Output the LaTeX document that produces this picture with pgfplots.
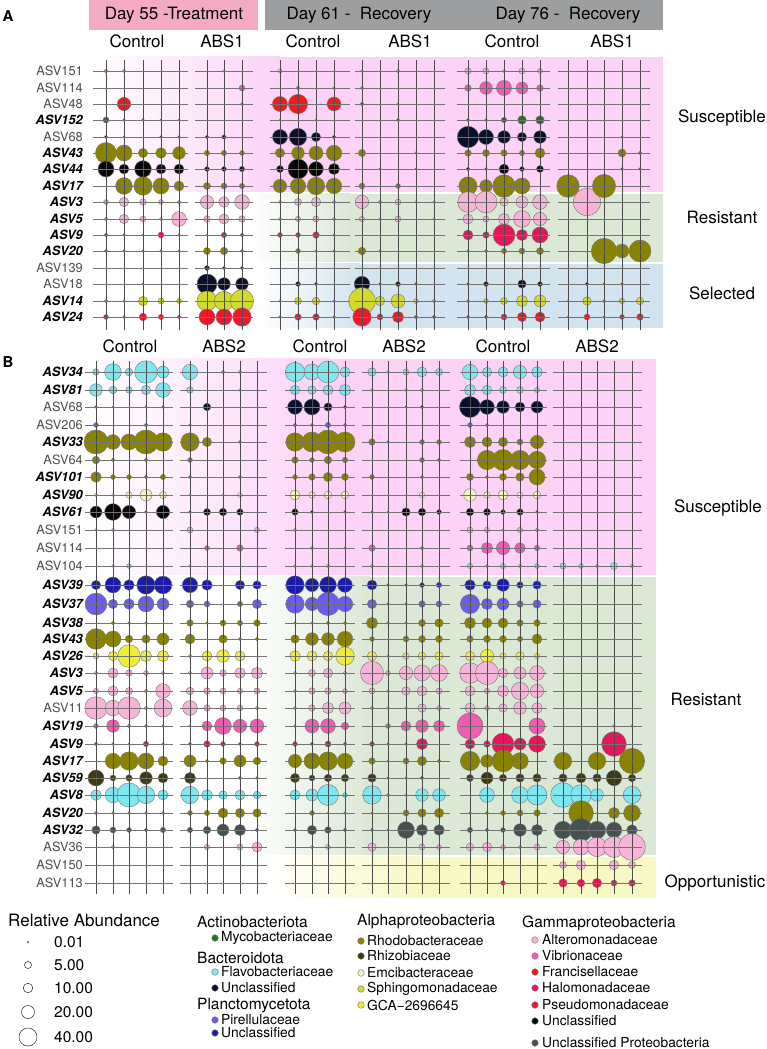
\documentclass[border=0pt]{standalone}
\usepackage{fontspec}
\setmainfont{TeX Gyre Heros}
\usepackage{pgfplots}
\usepackage{pgfplotstable}
\pgfplotsset{compat=1.18}

% family colours
\definecolor{cAlt}{HTML}{F6B4D8}
\definecolor{cVib}{HTML}{F25AB4}
\definecolor{cFra}{HTML}{FF1515}
\definecolor{cHal}{HTML}{E8155A}
\definecolor{cPse}{HTML}{F3152B}
\definecolor{cGun}{HTML}{050505}
\definecolor{cUpr}{HTML}{465252}
\definecolor{cMyc}{HTML}{1C7A1C}
\definecolor{cFla}{HTML}{80E6F0}
\definecolor{cBun}{HTML}{0A0F2A}
\definecolor{cPir}{HTML}{6A5CF2}
\definecolor{cPun}{HTML}{1C1CA8}
\definecolor{cRho}{HTML}{8A8300}
\definecolor{cRhi}{HTML}{3D3A0E}
\definecolor{cEmc}{HTML}{F6F2C0}
\definecolor{cSph}{HTML}{D2DB2C}
\definecolor{cGca}{HTML}{EEEE3A}
% backgrounds
\definecolor{bgPink}{HTML}{FCD3F7}
\definecolor{bgGreen}{HTML}{DCE8D6}
\definecolor{bgBlue}{HTML}{D2E4F0}
\definecolor{bgYellow}{HTML}{F8F8C4}
\definecolor{hdPink}{HTML}{F5AAC3}
\definecolor{hdGrey}{HTML}{9C9EA0}

\newcommand\fRow{\fontsize{12.8}{12.8}\selectfont}
\newcommand\fBig{\fontsize{17}{17}\selectfont}
\newcommand\fLeg{\fontsize{15.5}{15.5}\selectfont}
\newcommand\fSub{\fontsize{13.8}{13.8}\selectfont}
\newcommand\rlab[2]{\node[anchor=east,inner sep=0,text=black!70,font=\fRow] at (83,#1) {#2};}
\newcommand\blab[2]{\node[anchor=east,inner sep=0,font=\fRow\bfseries\itshape] at (83,#1) {#2};}

\pgfplotsset{
  famcls/.style={scatter, only marks, mark=*, scatter src=explicit symbolic,
    scatter/classes={
      alt={draw=black!55,fill=cAlt}, vib={draw=black!55,fill=cVib},
      fra={draw=black!55,fill=cFra}, hal={draw=black!55,fill=cHal},
      pse={draw=black!55,fill=cPse}, gun={draw=black!55,fill=cGun},
      upr={draw=black!55,fill=cUpr}, myc={draw=black!55,fill=cMyc},
      fla={draw=black!55,fill=cFla}, bun={draw=black!55,fill=cBun},
      pir={draw=black!55,fill=cPir}, pun={draw=black!55,fill=cPun},
      rho={draw=black!55,fill=cRho}, rhi={draw=black!55,fill=cRhi},
      emc={draw=black!55,fill=cEmc}, sph={draw=black!55,fill=cSph},
      gca={draw=black!55,fill=cGca}, leg={draw=black,fill=white}}},
  bubble/.style={famcls,
    visualization depends on={0.5+1.35*sqrt(\thisrow{#1}) \as \rad},
    scatter/@pre marker code/.append style={/tikz/mark size=\rad,/tikz/line width=0.4pt,/tikz/fill opacity=0.9}},
}

% Panel A: relative abundance (%), one row per ASV, one column per sample (named by its x position)
\pgfplotstableread{
asv y fam x106 x124 x143 x161 x179 x207 x224 x242 x280 x298 x316 x334 x362 x380 x398 x416 x434 x468 x486 x504 x522 x540 x568 x587 x604 x622 x640
ASV151 71 alt 1.2 0.8 0 0 0 0 0.5 0 1.5 0 0 0 0.5 0 1.0 0 0 4.0 3.4 0.8 3.4 2.2 0 0 0 0 0
ASV114 88 vib 0 0 0 0 0 0 0 3.4 0 1.2 0 0.4 0.6 0 0 0 0 4.3 18.5 27 16.6 4.3 0 0 0 0 0
ASV48 104 fra 0 21 0 0 0 0 0 0.4 27 46 0 23 1.2 0 0.2 0 0 0 0 0 0 0 0 0 0 0 0
ASV152 120 myc 3.4 0.4 0.4 0.15 0.2 0 0 0 0.1 0 0.1 0 0 0 0.6 0 0 0.6 0.4 2.6 8 7.5 0 0 0 0 0
ASV68 137 bun 0.6 0.15 0 0.4 0.4 1.0 1.4 0 27 37 9.7 1.0 0 0 0 0 0 58 27 18.5 9.7 18.5 0 0 0 0.15 0
ASV43 153 rho 55 31 9.7 12.8 18.5 2.6 2.6 2.0 9.7 18.5 23 29 5.6 0 0 0.4 0 4.3 5 4.3 2.6 11 0 0 0 6.7 1.0
ASV44 169 gun 31 11 34 11 11 2 2 2.6 5 50 26 14.5 0 0.15 0 0.2 0 1 0.4 11 2 5 0 0 0 0.4 0.4
ASV17 186 rho 0 34 42 31 11 5 3.4 2.6 21 29 37 29 3.4 0 2 0 0 41 18.5 64 31 0 64 0 68 0 0
ASV3 202 alt 2 9.7 4.3 2 1 21 12.8 26 0.6 5 9.7 0.6 21 1 3.4 0.4 0.4 53 60 7.5 16.6 26 0 95 0 0 0
ASV5 219 alt 1 9.7 3.4 0.6 26 4.3 11 4.3 0.6 2.6 3.4 0.6 2.6 0.4 3.4 0 0.4 11 3.4 14.5 34 21 0 0 0 0 0
ASV9 235 hal 1 0.4 0.2 3.4 0.4 0.1 2.6 1 2 2 4.3 0.1 0 0 0 0 0 11 4.3 60 14.5 31 0 0 0 0 0
ASV20 251 rho 0.6 0.4 0.4 0.4 0.2 5 6 0.6 0 2 0.2 0.2 6 0.4 0 0 0 0.4 0.6 2.6 3.4 5 0 0 82 23 60
ASV139 268 bun 0 0 0 0 0 2 0.6 0.6 0 0 0 0 0 0 0 0 0 0 0 0 0 0 0 0 0 0 0
ASV18 284 bun 0 0 0.15 0 0 50 18.5 18.5 0 2 0.6 0 29 0.4 2 0.4 0 0.4 2 0 7.5 2 0 1 0.2 0.4 0
ASV14 301 sph 1 0.4 9.7 3.4 2 50 46 68 0.4 5 6 0.4 90 9.7 23 2 1 0.6 2 5 14.5 16.6 0.2 7.5 0.6 2.6 6
ASV24 317 pse 2 0.4 6 2.6 1 31 31 42 0.4 4.3 4.3 0.4 42 3.4 14.5 1 1 0.6 1 3.4 9.7 11 0.2 3.4 0.2 2 4.3
}\tabA

% Panel B
\pgfplotstableread{
asv y fam x96 x113 x129 x146 x163 x190 x207 x223 x240 x257 x295 x312 x328 x345 x372 x388 x406 x422 x439 x470 x487 x503 x520 x537 x563 x581 x597 x614 x632
ASV34 372 fla 4.3 34 6 64 16.6 29 0 1 1 0 46 31 60 11 7.5 0.4 3.4 11 5 29 9.7 11 21 12.8 0 0 0 0 0
ASV81 390 fla 18.5 6 4.3 9.7 26 4.3 0 0 0.4 0 9.7 7.5 11 14.5 0.4 0 0.4 1 0 14.5 9.7 5 5 2.6 0 0 0 0 0
ASV68 407 bun 0.4 0.1 0 0.2 0.4 0 6 0 0 0 26 31 7.5 0.6 0 0 0.2 0.6 0 55 26 18.5 11 16.6 0 0 0 0 0
ASV206 425 pir 2 0 0 1 0 0.4 0 0 0 0 1 0.6 2.6 0.6 0 0 0 0 0 2 0.6 0 0 0 0 0 0 0 0
ASV33 442 rho 73 26 31 73 42 42 9.7 0 0.6 0 42 50 73 50 4.3 0.4 0 2 2 14.5 11 9.7 3.4 21 0 0 0 0 0
ASV64 460 rho 6 1 0 1 0 2 0 0 0 0 4.3 2 6 2.6 0 0 0 2 1 0 46 55 46 37 0 0.1 0 0 0
ASV101 477 rho 12.8 2 2 1 2.6 0.6 0 0 0.6 0 2 4.3 9.7 5 2 0 0 0.6 0 5 0.6 5 7.5 31 0 0 0 0 0
ASV90 495 emc 0.6 0.4 4.3 16.6 5 0.2 0 0.4 2 0 11 4.3 6 6 0 0 0 2.6 0 18.5 4.3 11 3.4 6 0 0 0 0 0
ASV61 512 gun 16.6 34 21 0.4 21 0.4 5 6 4.3 0 4.3 0.6 0 0.4 0.2 0.1 7.5 6 2 6 5 2 4.3 0.4 0 0 0 0 0
ASV151 530 alt 0.4 0.6 0 0 0 3.4 0 0 0 2.6 0.6 0 0 0 0 0 0 0 0 3.4 2.6 0.4 2.6 1 0 0 0 0 0
ASV114 548 vib 0 0 0 0 0 0 2 0 4.3 0 0 0.6 0 0.2 4.3 0 0 1 0 3.4 14.5 21 12.8 2.6 0 0 0 0 0
ASV104 566 fla 0 0.4 2 0 0 0.4 0 0 0 0 0.4 0.6 1 0 1 0 0 0.6 0 2.6 0.6 2.6 1 2 3.4 2 0.6 5 1
ASV39 585 pun 9.7 31 12.8 42 39 29 12.8 0 9.7 7.5 42 21 34 26 11 0.4 0.4 2 2.6 12.8 7.5 18.5 4.3 7.5 0 0 0 0 0.1
ASV37 604 pir 60 9.7 12.8 31 16.6 6 3.4 0 2.6 9.7 42 21 68 29 9.7 0.4 0.4 4.3 3.4 46 14.5 16.6 4.3 7.5 0 0 0 0 0
ASV38 623 rho 0 1 0.4 0.4 0 4.3 0.4 3.4 2.6 4.3 0.4 0.4 1 0.6 14.5 0.4 0.4 5 7.5 14.5 11 11 4.3 4.3 0 0 0 0 0
ASV43 639 rho 53 31 6 7.5 16.6 11 0 7.5 0.6 1 7.5 18.5 18.5 29 2 0 3.4 5 5 4.3 5 5 2.6 11 0 0 0 0 0
ASV26 656 gca 3.4 9.7 64 14.5 14.5 1 11 18.5 11 0 12.8 11 9.7 42 9.7 0.4 4.3 6 7.5 9.7 21 3.4 7.5 2.6 0 0 0 0 0
ASV3 673 alt 1 11 4.3 2 1 1 16.6 4.3 12.8 14.5 0.6 5 9.7 1 68 2 21 31 34 53 68 9.7 16.6 26 0 0 0 0 0
ASV5 691 alt 2.6 11 5 1 26 6 4.3 3.4 2.6 3.4 0.6 4.3 4.3 2 3.4 0.4 7.5 11 3.4 11 2.6 14.5 37 21 0 0 0 0 0
ASV11 708 alt 64 29 64 1 39 26 4.3 3.4 3.4 1 0.6 4.3 14.5 16.6 1 0.4 0.4 7.5 2 11 2 7.5 18.5 12.8 0 0 0 0 0
ASV19 726 vib 2 18.5 1 0.6 0.4 0.2 11 34 21 23 0.4 23 26 6 0 2 11 18.5 14.5 86 0 0 0 31 0 0 0 0.4 0.4
ASV9 744 hal 1 0.4 0.2 2.6 0.4 0.6 4.3 2 0.6 2 2 1 3.4 1 2 0.4 0.4 14.5 0 11 4.3 60 16.6 34 0 0 0 77 0
ASV17 761 rho 0 29 42 31 11 16.6 0.6 4.3 16.6 6 21 31 42 29 4.3 0.2 3.4 9.7 1 46 18.5 60 34 0 37 0 37 0 82
ASV59 778 rhi 31 3.4 4.3 18.5 11 14.5 0 0 0.6 0.4 9.7 3.4 6 6 7.5 0.2 0.2 1 0 5 16.6 6 7.5 7.5 7.5 11 7.5 29 6
ASV8 795 fla 12.8 29 73 37 11 37 12.8 7.5 11 6 11 16.6 55 2 42 0.6 0.4 18.5 18.5 0 26 0 34 50 77 53 18.5 0 37
ASV20 813 rho 0.6 0.4 0.4 0.4 0.4 2 2.6 11 9.7 7.5 0 2 0.2 0.4 0.2 0 3.4 7.5 9.7 0.4 0.6 2 3.4 4.3 0 77 0 14.5 34
ASV32 830 upr 7.5 3.4 2 1 2.6 2.6 6 16.6 14.5 1 0.6 9.7 4.3 1 0.6 0.2 34 14.5 12.8 2.6 1 2 18.5 14.5 37 68 37 29 12.8
ASV36 847 alt 0 1 0 0 0 0 2.6 0 3.4 11 0 1 2 0 7.5 0 0 3.4 2 6 9.7 2 1 3.4 21 31 46 55 90
ASV150 865 alt 0 0 0 0 0 0 0 0 0 0 0 0 0 0 0 0 0 0 0 0 0 0 0 0 5 9.7 0 9.7 5
ASV113 883 hal 0 0 0 0 0 0 0 0 0 0 0 0 0 0 0 0 0 0 0 0 0 2 0 0 7.5 6 9.7 3.4 4.3
}\tabB

% size legend
\pgfplotstableread{
x y fam v
28 942 leg 0.01
28 965 leg 5
28 988 leg 10
28 1012 leg 20
28 1037 leg 40
}\tabSize

% family legend markers
\pgfplotstableread{
x y fam
215 938 myc
215 972 fla
215 988 bun
215 1020 pir
215 1033 pun
361 941 rho
361 956 rhi
361 973 emc
361 989 sph
361 1005 gca
535 940 alt
535 956 vib
535 972 fra
535 988 hal
535 1005 pse
535 1021 gun
535 1043 upr
}\tabFam

\begin{document}
\begin{tikzpicture}
\path[use as bounding box] (0,0) rectangle (766pt,1049pt);

% background bands
\begin{scope}[x=1pt,y=-1pt,shift={(0,1049pt)}]
\fill[hdPink] (89,0) rectangle (258,30);
\fill[hdGrey] (265,0) rectangle (663,30);
\shade[left color=white,right color=bgPink] (90,57) rectangle (280,192);
\fill[bgPink] (279.5,57) rectangle (663,192);
\shade[left color=white,right color=bgGreen] (250,194) rectangle (350,262);
\fill[bgGreen] (349.5,194) rectangle (663,262);
\shade[left color=white,right color=bgBlue] (258,264) rectangle (360,328);
\fill[bgBlue] (359.5,264) rectangle (663,328);
\shade[left color=white,right color=bgPink] (88,359) rectangle (330,575);
\fill[bgPink] (329.5,359) rectangle (656,575);
\shade[left color=white,right color=bgGreen] (245,577) rectangle (370,855);
\fill[bgGreen] (369.5,577) rectangle (656,855);
\shade[left color=white,right color=bgYellow] (265,857) rectangle (420,898);
\fill[bgYellow] (419.5,857) rectangle (656,898);
\end{scope}

\begin{axis}[at={(0,0)}, anchor=south west, scale only axis,
  width=766pt, height=1049pt, xmin=0, xmax=766, ymin=0, ymax=1049,
  y dir=reverse, hide axis, clip=false, restrict y to domain=0:1100]
\pgfplotsinvokeforeach{106,124,143,161,179,207,224,242,280,298,316,334,362,380,398,416,434,468,486,504,522,540,568,587,604,622,640}{
  \addplot[bubble=x#1] table[x expr=#1, y expr={\thisrow{x#1}>0 ? \thisrow{y} : -500}, meta=fam] {\tabA};
}
\pgfplotsinvokeforeach{96,113,129,146,163,190,207,223,240,257,295,312,328,345,372,388,406,422,439,470,487,503,520,537,563,581,597,614,632}{
  \addplot[bubble=x#1] table[x expr=#1, y expr={\thisrow{x#1}>0 ? \thisrow{y} : -500}, meta=fam] {\tabB};
}
\addplot[bubble=v] table[x=x, y=y, meta=fam] {\tabSize};
\addplot[famcls, mark size=3.3, line width=0.4pt] table[x=x, y=y, meta=fam] {\tabFam};
\end{axis}

\begin{scope}[x=1pt,y=-1pt,shift={(0,1049pt)}]
% grid, panel A
\foreach \a/\b/\cols in {93/188/{106,124,143,161,179}, 195/253/{207,224,242},
    270/350/{280,298,316,334}, 355/445/{362,380,398,416,434},
    457/550/{468,486,504,522,540}, 558/650/{568,587,604,622,640}}{
  \foreach \c in \cols {\draw[black!70,line width=0.45pt] (\c,60) -- (\c,330);}
  \foreach \r in {71,88,104,120,137,153,169,186,202,219,235,251,268,284,301,317}
    {\draw[black!55,line width=0.6pt] (\a,\r) -- (\b,\r);}
}
% grid, panel B
\foreach \a/\b/\cols in {85/173/{96,113,129,146,163}, 180/267/{190,207,223,240,257},
    285/355/{295,312,328,345}, 362/450/{372,388,406,422,439},
    460/547/{470,487,503,520,537}, 553/642/{563,581,597,614,632}}{
  \foreach \c in \cols {\draw[black!70,line width=0.45pt] (\c,361) -- (\c,894);}
  \foreach \r in {372,390,407,425,442,460,477,495,512,530,548,566,585,604,623,639,656,673,691,708,726,744,761,778,795,813,830,847,865,883}
    {\draw[black!55,line width=0.6pt] (\a,\r) -- (\b,\r);}
}

% headers
\node[font=\fBig] at (174,15) {Day 55 -Treatment};
\node[font=\fBig] at (359,15) {Day 61 -~ Recovery};
\node[font=\fBig] at (568,15) {Day 76 -~ Recovery};
\node[font=\fontsize{15}{15}\selectfont\bfseries] at (8,16) {A};
\node[font=\fontsize{15}{15}\selectfont\bfseries] at (8,362) {B};
\foreach \x/\t in {137/Control,222/ABS1,313/Control,410/ABS1,512/Control,612/ABS1}
  {\node[font=\fBig] at (\x,41) {\t};}
\foreach \x/\t in {130/Control,224/ABS2,320/Control,404/ABS2,503/Control,597/ABS2}
  {\node[font=\fBig] at (\x,346) {\t};}

% group labels on the right
\node[font=\fBig] at (722,118) {Susceptible};
\node[font=\fBig] at (722,217) {Resistant};
\node[font=\fBig] at (722,293) {Selected};
\node[font=\fBig] at (718,508) {Susceptible};
\node[font=\fBig] at (706,699) {Resistant};
\node[font=\fBig] at (715,883) {Opportunistic};

% row labels, panel A
\rlab{71}{ASV151} \rlab{88}{ASV114} \rlab{104}{ASV48} \blab{120}{ASV152}
\rlab{137}{ASV68} \blab{153}{ASV43} \blab{169}{ASV44} \blab{186}{ASV17}
\blab{202}{ASV3} \blab{219}{ASV5} \blab{235}{ASV9} \blab{251}{ASV20}
\rlab{268}{ASV139} \rlab{284}{ASV18} \blab{301}{ASV14} \blab{317}{ASV24}
% row labels, panel B
\blab{372}{ASV34} \blab{390}{ASV81} \rlab{407}{ASV68} \rlab{425}{ASV206}
\blab{442}{ASV33} \rlab{460}{ASV64} \blab{477}{ASV101} \blab{495}{ASV90}
\blab{512}{ASV61} \rlab{530}{ASV151} \rlab{548}{ASV114} \rlab{566}{ASV104}
\blab{585}{ASV39} \blab{604}{ASV37} \blab{623}{ASV38} \blab{639}{ASV43}
\blab{656}{ASV26} \blab{673}{ASV3} \blab{691}{ASV5} \rlab{708}{ASV11}
\blab{726}{ASV19} \blab{744}{ASV9} \blab{761}{ASV17} \blab{778}{ASV59}
\blab{795}{ASV8} \blab{813}{ASV20} \blab{830}{ASV32} \rlab{847}{ASV36}
\rlab{865}{ASV150} \rlab{883}{ASV113}

% legends
\node[anchor=west,inner sep=0,font=\fBig] at (8,920) {Relative Abundance};
\foreach \y/\t in {942/0.01,965/5.00,988/10.00,1012/20.00,1037/40.00}
  {\node[anchor=west,inner sep=0,font=\fLeg] at (54,\y) {\t};}
\foreach \x/\y/\t in {197/922/Actinobacteriota,197/958/Bacteroidota,197/1006/Planctomycetota,
    357/922/Alphaproteobacteria,522/923/Gammaproteobacteria}
  {\node[anchor=west,inner sep=0,font=\fLeg] at (\x,\y) {\t};}
\foreach \x/\y/\t in {221/938/Mycobacteriaceae,221/972/Flavobacteriaceae,221/988/Unclassified,
    221/1020/Pirellulaceae,221/1033/Unclassified,
    367/941/Rhodobacteraceae,367/956/Rhizobiaceae,367/973/Emcibacteraceae,
    367/989/Sphingomonadaceae,367/1005/GCA−2696645,
    542/940/Alteromonadaceae,542/956/Vibrionaceae,542/972/Francisellaceae,
    542/988/Halomonadaceae,542/1005/Pseudomonadaceae,542/1021/Unclassified,
    542/1043/Unclassified Proteobacteria}
  {\node[anchor=west,inner sep=0,font=\fSub] at (\x,\y) {\t};}
\end{scope}
\end{tikzpicture}
\end{document}
